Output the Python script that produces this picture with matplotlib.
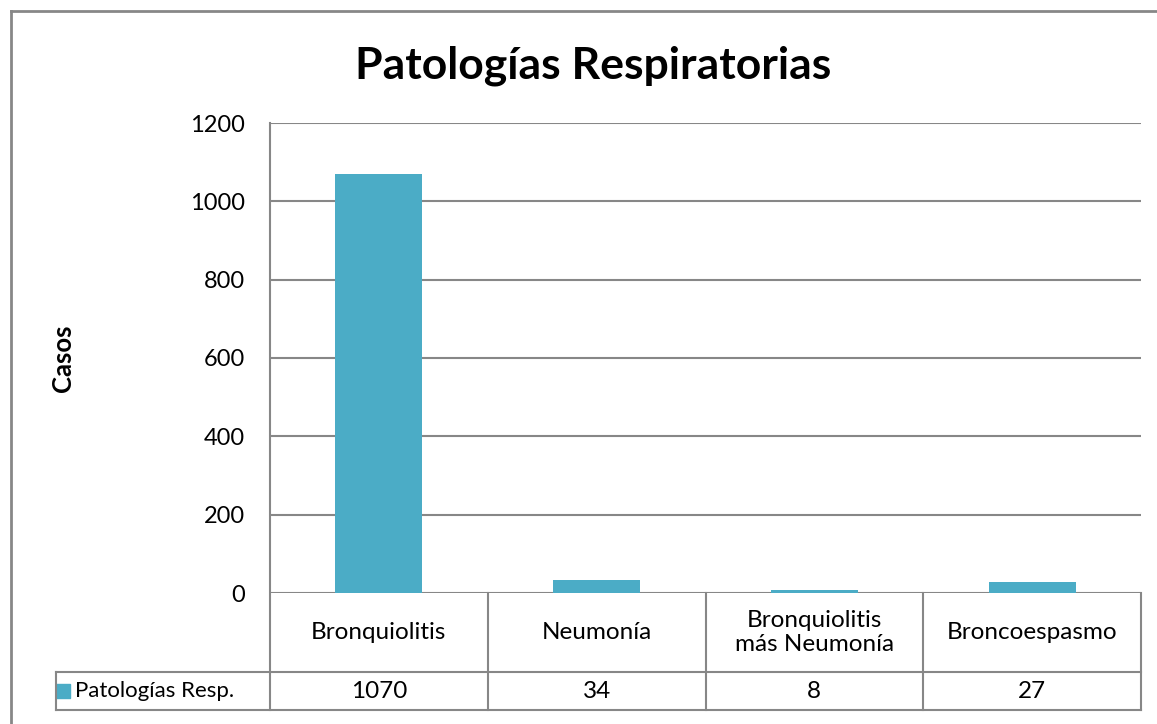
import matplotlib
matplotlib.use("Agg")
import matplotlib.pyplot as plt
from matplotlib.lines import Line2D
import matplotlib.transforms as mtransforms

# =======================
# DATA
# =======================
categories = ["Bronquiolitis", "Neumonía", "Bronquiolitis\nmás Neumonía", "Broncoespasmo"]
casos = [1070, 34, 8, 27]
series_name = "Patologías Resp."
y_ticks = [0, 200, 400, 600, 800, 1000, 1200]

# =======================
# STYLE
# =======================
bar_color = "#4BACC6"
line_color = "#878787"
plt.rcParams["font.family"] = ["Lato", "DejaVu Sans"]

W, H = 1157, 724
fig = plt.figure(figsize=(W / 100, H / 100), dpi=100)
ax = fig.add_axes([270 / W, 131 / H, 871 / W, 470 / H])

x = list(range(len(categories)))
ax.bar(x, casos, width=0.4, color=bar_color, zorder=3)
ax.set_xlim(-0.5, len(categories) - 0.5)
ax.set_ylim(0, 1200)
ax.set_yticks(y_ticks)
ax.set_xticks([])
ax.tick_params(axis="y", length=0, labelsize=17, pad=18)
ax.grid(axis="y", color=line_color, lw=1.5, zorder=1)
for side in ["top", "right", "bottom", "left"]:
    ax.spines[side].set_visible(False)

# data table under the axis (axes-fraction rows)
row1 = -79 / 470
row2 = -117 / 470
legend_left = -214 / 871
lkw = dict(color=line_color, lw=1.5, clip_on=False, transform=ax.transAxes, zorder=4)
ax.plot([0, 0], [1, row2], **lkw)
for i in range(1, len(categories) + 1):
    xf = i / len(categories)
    ax.plot([xf, xf], [0, row2], **lkw)
ax.plot([legend_left, legend_left], [row1, row2], **lkw)
ax.plot([legend_left, 1], [row1, row1], **lkw)
ax.plot([legend_left, 1], [row2, row2], **lkw)

blend = mtransforms.blended_transform_factory(ax.transData, ax.transAxes)
for xi, cat, val in zip(x, categories, casos):
    ax.text(xi, row1 / 2, cat, transform=blend, ha="center", va="center",
            fontsize=17.5, linespacing=1.15)
    ax.text(xi, (row1 + row2) / 2, str(val), transform=blend, ha="center",
            va="center", fontsize=17.5)

# legend key in the table
ax.plot([legend_left + 0.008], [(row1 + row2) / 2], marker="s", ms=9.5,
        color=bar_color, transform=ax.transAxes, clip_on=False, ls="none")
ax.text(legend_left + 0.022, (row1 + row2) / 2, series_name, transform=ax.transAxes,
        ha="left", va="center", fontsize=16)

# titles
fig.text(593 / W, 1 - 66 / H, "Patologías Respiratorias", ha="center", va="center",
         fontsize=32, fontweight="bold")
fig.text(63 / W, 1 - 358 / H, "Casos", ha="center", va="center", rotation=90,
         fontsize=18.5, fontweight="bold")

# outer chart frame
fig.add_artist(Line2D([10.5 / W, 10.5 / W], [0, 1 - 10.5 / H], color=line_color,
                      lw=2, transform=fig.transFigure))
fig.add_artist(Line2D([10.5 / W, 1], [1 - 10.5 / H, 1 - 10.5 / H], color=line_color,
                      lw=2, transform=fig.transFigure))

fig.savefig("out.png", dpi=100)
